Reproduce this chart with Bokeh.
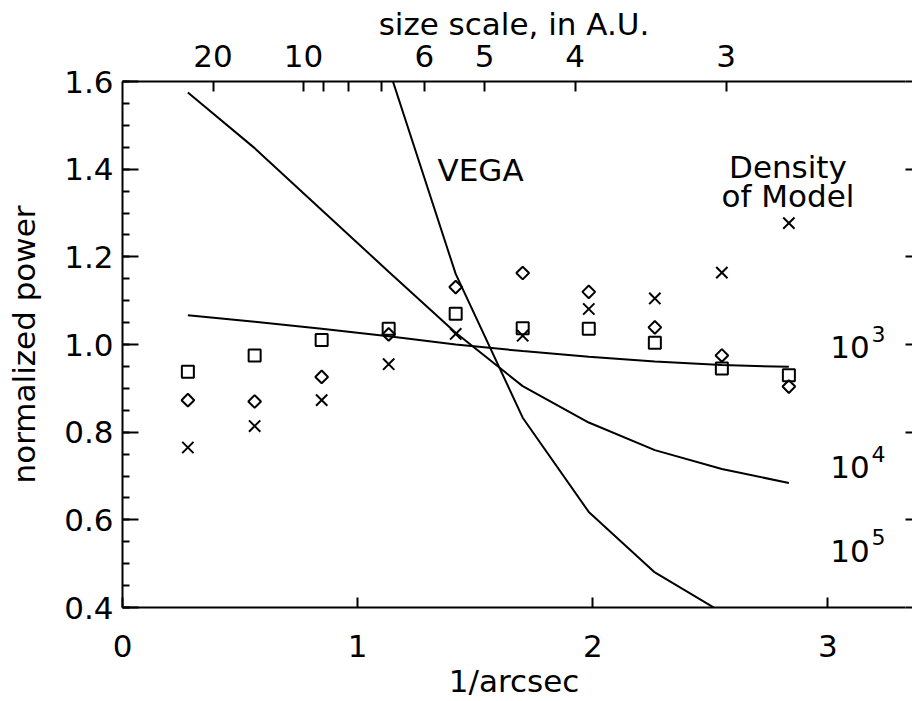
from math import pi

from bokeh.core.properties import value
from bokeh.embed import file_html
from bokeh.models import (CustomJSTickFormatter, FixedTicker, LinearAxis,
                          PrintfTickFormatter, Range1d, SingleIntervalTicker)
from bokeh.plotting import figure
from bokeh.resources import INLINE

# ---------------- data ----------------
freq = [0.278, 0.562, 0.847, 1.132, 1.417, 1.702, 1.983, 2.264, 2.549, 2.834]
obs_square = [0.938, 0.975, 1.010, 1.036, 1.070, 1.037, 1.036, 1.004, 0.945, 0.930]
obs_diamond = [0.873, 0.870, 0.926, 1.023, 1.131, 1.163, 1.120, 1.039, 0.975, 0.904]
obs_cross = [0.765, 0.814, 0.873, 0.955, 1.024, 1.020, 1.081, 1.105, 1.164, 1.277]

model_1e3 = [1.067, 1.052, 1.036, 1.019, 1.000, 0.985, 0.972, 0.961, 0.953, 0.949]
model_1e4 = [1.575, 1.448, 1.307, 1.166, 1.027, 0.905, 0.822, 0.759, 0.716, 0.684]
freq_1e5 = [1.132, 1.417, 1.702, 1.983, 2.264, 2.549]
model_1e5 = [1.630, 1.161, 0.833, 0.618, 0.480, 0.389]

density_labels = ["10", "10", "10"]
density_exponents = ["3", "4", "5"]
density_label_y = [0.995, 0.72, 0.53]

distance_pc = 7.7
size_ticks_au = [20, 10, 9, 8, 7, 6, 5, 4, 3]
size_labels_au = [20, 10, 6, 5, 4, 3]
x_ticks = [0, 1, 2, 3]

FONT = "DejaVu Sans"
FS = "31px"

p = figure(width=912, height=701, output_backend="svg", toolbar_location=None,
           x_range=Range1d(0, 3.33), y_range=Range1d(0.4, 1.6),
           min_border_left=122, min_border_top=81, min_border_bottom=92,
           min_border_right=0)
p.xgrid.visible = False
p.ygrid.visible = False
p.outline_line_color = None
p.background_fill_color = "white"
p.border_fill_color = "white"


def style_axis(ax):
    ax.axis_line_color = "black"
    ax.axis_line_width = 2
    ax.major_tick_line_color = "black"
    ax.major_tick_line_width = 2
    ax.minor_tick_line_color = "black"
    ax.minor_tick_line_width = 2
    ax.major_label_text_font = FONT
    ax.major_label_text_font_size = FS
    ax.major_label_text_color = "black"
    ax.axis_label_text_font = FONT
    ax.axis_label_text_font_size = FS
    ax.axis_label_text_font_style = "normal"
    ax.axis_label_text_color = "black"


# bottom axis
xa = p.xaxis[0]
style_axis(xa)
xa.ticker = FixedTicker(ticks=x_ticks)
xa.major_tick_in = 10
xa.major_tick_out = 0
xa.minor_tick_in = 0
xa.minor_tick_out = 0
xa.major_label_standoff = 27
xa.axis_label = "1/arcsec"
xa.axis_label_standoff = 3

# left axis
ya = p.yaxis[0]
style_axis(ya)
ya.ticker = SingleIntervalTicker(interval=0.2, num_minor_ticks=4)
ya.formatter = PrintfTickFormatter(format="%.1f")
ya.major_tick_in = 16
ya.major_tick_out = 0
ya.minor_tick_in = 7
ya.minor_tick_out = 0
ya.major_label_standoff = 9
ya.axis_label = "normalized power"
ya.axis_label_standoff = 19

# top axis: size scale in A.U. (size = distance / (1/arcsec))
top = LinearAxis(
    ticker=FixedTicker(ticks=[distance_pc / s for s in size_ticks_au]),
    formatter=CustomJSTickFormatter(
        args=dict(d=distance_pc, keep=size_labels_au),
        code="const s = Math.round(d / tick); return keep.includes(s) ? String(s) : '';"),
    axis_label="size scale, in A.U.")
style_axis(top)
top.major_tick_in = 10
top.major_tick_out = 0
top.minor_tick_in = 0
top.minor_tick_out = 0
top.major_label_standoff = 15
top.axis_label_standoff = 0
p.add_layout(top, "above")

# right axis: ticks only
right = LinearAxis(ticker=SingleIntervalTicker(interval=0.2, num_minor_ticks=0),
                   formatter=CustomJSTickFormatter(code="return '';"))
right.axis_line_color = None
right.major_tick_line_color = "black"
right.major_tick_line_width = 2
right.major_tick_in = 0
right.major_tick_out = 7
right.minor_tick_in = 0
right.minor_tick_out = 0
right.major_label_standoff = 0
right.major_label_text_font_size = "1px"
p.add_layout(right, "right")

# model curves
p.line(freq, model_1e3, line_color="black", line_width=2)
p.line(freq, model_1e4, line_color="black", line_width=2)
p.line(freq_1e5, model_1e5, line_color="black", line_width=2)

# observed points
p.scatter(freq, obs_square, marker="square", size=12, fill_color=None,
          line_color="black", line_width=2)
p.scatter(freq, obs_diamond, marker="square", angle=pi / 4, size=9,
          fill_color=None, line_color="black", line_width=2)
p.scatter(freq, obs_cross, marker="x", size=16, line_color="black", line_width=2)

# annotations
p.text(x=[1.34], y=[1.397], text=["VEGA"], text_font=value(FONT),
       text_font_size=value(FS), text_align="left", text_baseline="middle",
       text_color="black")
p.text(x=[2.83, 2.83], y=[1.405, 1.338], text=["Density", "of Model"],
       text_font=value(FONT), text_font_size=value(FS), text_align="center",
       text_baseline="middle", text_color="black")
p.text(x=[3.01] * 3, y=density_label_y, text=density_labels,
       text_font=value(FONT), text_font_size=value(FS), text_align="left",
       text_baseline="middle", text_color="black")
p.text(x=[3.185] * 3, y=[v + 0.03 for v in density_label_y], text=density_exponents,
       text_font=value(FONT), text_font_size=value("22px"), text_align="left",
       text_baseline="middle", text_color="black")

open("out.html", "w").write(file_html(p, INLINE))
